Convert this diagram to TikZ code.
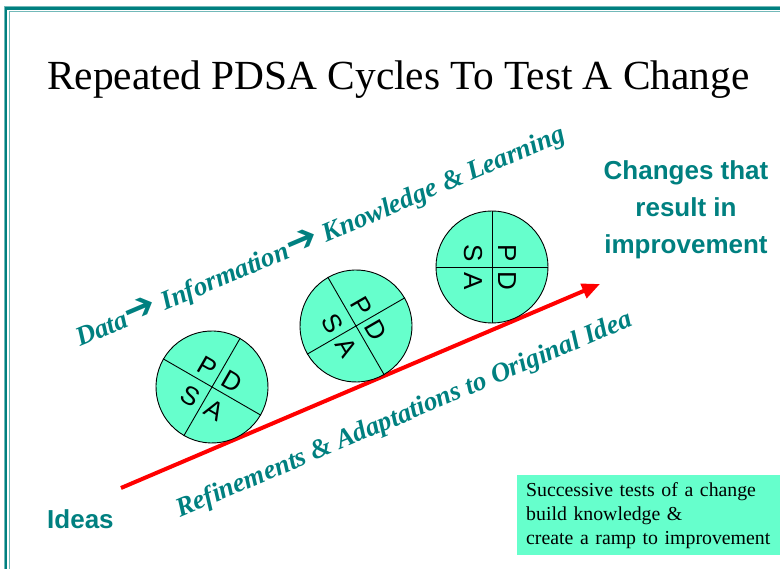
\documentclass[tikz,border=0pt]{standalone}
\usepackage{fontspec}
\setmainfont{Liberation Serif}
\newfontfamily\arialfont{Liberation Sans}
\newfontfamily\dingfont{DejaVu Sans}
\usepackage{tikz}
\usetikzlibrary{arrows.meta}
\definecolor{slideteal}{RGB}{0,128,128}
\definecolor{cyclegreen}{RGB}{102,255,204}
\newcommand{\stepto}{{\dingfont\fontsize{38}{38}\selectfont ➔}}

\begin{document}
\begin{tikzpicture}[x=1pt, y=1pt,
    cycle/.style={circle, draw, line width=0.9pt, fill=cyclegreen, minimum size=112pt, inner sep=0pt},
    letter/.style={font=\arialfont\fontsize{26}{26}\selectfont, inner sep=0pt},
    ramp/.style={font=\bfseries\itshape\fontsize{27}{27}\selectfont, text=slideteal, anchor=base west, inner sep=0pt, rotate=23},
    head/.style={font=\arialfont\bfseries\fontsize{26}{37}\selectfont, text=slideteal, inner sep=0pt}]

\useasboundingbox (0,0) rectangle (780,569);

\draw[slideteal!55, line width=1pt] (4,0) -- (4,562.5) -- (780,562.5);
\draw[slideteal, line width=2.5pt] (6,0) -- (6,560.5) -- (780,560.5);
\draw[slideteal!55, line width=1pt] (9.5,0) -- (9.5,557) -- (780,557);

\node[anchor=base west, inner sep=0pt, font=\fontsize{41.4}{48}\selectfont] (title) at (47,479) {Repeated PDSA Cycles To Test A Change};

\coordinate (idea) at (121,81);
\coordinate (goal) at (600,285);
\draw[red, line width=4pt, -{Triangle[length=18pt, width=15pt]}] (idea) -- (goal);

\node[cycle, rotate=-30] (c1) at (212,182) {};
\draw[line width=0.9pt] (c1.north) -- (c1.south);
\draw[line width=0.9pt] (c1.east) -- (c1.west);
\begin{scope}[shift={(c1.center)}, rotate=-30, transform shape]
\node[letter] (p1) at (-14,15) {P};
\node[letter] (d1) at (14,15) {D};
\node[letter] (s1) at (-14,-19) {S};
\node[letter] (a1) at (14,-19) {A};
\end{scope}

\node[cycle, rotate=-60] (c2) at (356,243) {};
\draw[line width=0.9pt] (c2.north) -- (c2.south);
\draw[line width=0.9pt] (c2.east) -- (c2.west);
\begin{scope}[shift={(c2.center)}, rotate=-60, transform shape]
\node[letter] (p2) at (-14,15) {P};
\node[letter] (d2) at (14,15) {D};
\node[letter] (s2) at (-14,-19) {S};
\node[letter] (a2) at (14,-19) {A};
\end{scope}

\node[cycle, rotate=-90] (c3) at (492,302) {};
\draw[line width=0.9pt] (c3.north) -- (c3.south);
\draw[line width=0.9pt] (c3.east) -- (c3.west);
\begin{scope}[shift={(c3.center)}, rotate=-90, transform shape]
\node[letter] (p3) at (-14,15) {P};
\node[letter] (d3) at (14,15) {D};
\node[letter] (s3) at (-14,-19) {S};
\node[letter] (a3) at (14,-19) {A};
\end{scope}

\node[ramp] (flow) at (80,222) {Data\stepto{} Information\stepto{} Knowledge \& Learning};
\node[ramp] (refine) at (180,51) {Refinements \& Adaptations to Original Idea};

\node[head, align=center, anchor=north] (result) at (686,409) {Changes that\\result in\\improvement};
\node[head, anchor=base west] (ideas) at (47,40) {Ideas};

\node[fill=cyclegreen, anchor=north west, text width=245pt, inner xsep=9pt, inner ysep=7pt, align=left,
      font=\fontsize{19.8}{24}\selectfont] (note) at (517,94)
      {Successive tests of a change\\build knowledge \&\\create a ramp to improvement};

\end{tikzpicture}
\end{document}
